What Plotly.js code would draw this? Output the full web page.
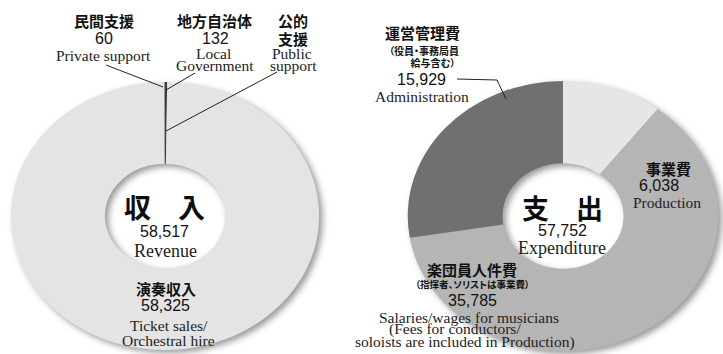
<!DOCTYPE html>
<html>
<head>
<meta charset="utf-8">
<script src="https://cdn.plot.ly/plotly-3.0.1.min.js"></script>
<style>
  html, body { margin: 0; padding: 0; background: #ffffff; }
  #chart { width: 723px; height: 354px; }
</style>
</head>
<body>
<div id="chart"></div>
<script>
const W = 723, H = 354;

// 収入 (Revenue), listed clockwise from 12 o'clock
const revenueKeys   = ['地方自治体', '演奏収入', '民間支援'];
const revenueValues = [132, 58325, 60];
const revenueColors = ['#3a3a3a', '#e4e4e4', '#9a9a9a'];

// 支出 (Expenditure), listed clockwise from 12 o'clock
const expenseKeys   = ['事業費', '楽団員人件費', '運営管理費'];
const expenseValues = [6038, 35785, 15929];
const expenseColors = ['#e6e6e6', '#b5b5b5', '#707070'];

const revenueTotal = revenueValues.reduce((a, b) => a + b, 0);
const expenseTotal = expenseValues.reduce((a, b) => a + b, 0);

const STRETCH = 1.15;   // rings are drawn slightly wider than tall
const HOLE = 0.39;

const fmt = v => v.toLocaleString('en-US');
const px = x => x / W;
const py = y => 1 - y / H;

const ring = (keys, values, colors, dx, dy) => ({
  type: 'pie', labels: keys, values: values, sort: false,
  direction: 'clockwise', rotation: 0, hole: HOLE,
  marker: { colors: colors, line: { width: 0 } },
  textinfo: 'none', hoverinfo: 'skip', showlegend: false,
  domain: { x: dx, y: dy }
});

const data = [
  ring(revenueKeys, revenueValues, revenueColors, [0, px(330)], [py(350), py(82)]),
  ring(expenseKeys, expenseValues, expenseColors, [px(403), 1], [py(351), py(81)])
];

const jp     = { family: '"Noto Sans CJK JP", sans-serif', size: 15, weight: 'bold', color: '#111' };
const jpNote = { family: '"Noto Sans CJK JP", sans-serif', size: 10, weight: 'bold', color: '#111' };
const jpTiny = { family: '"Noto Sans CJK JP", sans-serif', size: 9.5, weight: 'bold', color: '#111' };
const big    = { family: '"Noto Sans CJK JP", sans-serif', size: 27, weight: 'bold', color: '#0d0d0d' };
const num    = { family: '"Liberation Sans", Arial, sans-serif', size: 16, color: '#111' };
const serif  = { family: '"Liberation Serif", "Times New Roman", serif', size: 15.5, color: '#222' };
const serifL = { family: '"Liberation Serif", "Times New Roman", serif', size: 18, color: '#222' };

const note = (text, x, y, font) => ({
  text: text, x: px(x), y: py(y), xref: 'paper', yref: 'paper',
  xanchor: 'center', yanchor: 'middle', showarrow: false, font: font, borderpad: 0
});

const annotations = [
  // revenue side
  note(revenueKeys[2], 104, 20, jp),
  note(fmt(revenueValues[2]), 104, 38, num),
  note('Private support', 104, 56, serif),
  note(revenueKeys[0], 214, 20, jp),
  note(fmt(revenueValues[0]), 215, 38, num),
  note('Local', 213, 53, serif),
  note('Government', 215, 66, serif),
  note('公的', 293, 20, jp),
  note('支援', 293, 38, jp),
  note('Public', 292, 53, serif),
  note('support', 293, 66, serif),
  note('収　入', 164, 206, big),
  note(fmt(revenueTotal), 164, 232, num),
  note('Revenue', 165, 251, serifL),
  note(revenueKeys[1], 166, 288, jp),
  note(fmt(revenueValues[1]), 165, 305, num),
  note('Ticket sales/', 169, 325, serif),
  note('Orchestral hire', 168, 340, serif),

  // expenditure side
  note(expenseKeys[2], 422, 33, jp),
  note('（役員・事務局員', 424, 50, jpNote),
  note('給与含む）', 433, 63, jpNote),
  note(fmt(expenseValues[2]), 421, 79, num),
  note('Administration', 422, 97, serif),
  note(expenseKeys[0], 668, 168, jp),
  note(fmt(expenseValues[0]), 659, 185, num),
  note('Production', 667, 202, serif),
  note('支　出', 562, 207, big),
  note(fmt(expenseTotal), 562, 230, num),
  note('Expenditure', 562, 248, serifL),
  note(expenseKeys[1], 472, 269, jp),
  note('（指揮者、ソリストは事業費）', 472, 284, jpTiny),
  note(fmt(expenseValues[1]), 472, 300, num),
  note('Salaries/wages for musicians', 469, 317, serif),
  note('(Fees for conductors/', 455, 329, serif),
  note('soloists are included in Production)', 465, 342, serif)
];

const lead = (pts) => ({
  type: 'path', xref: 'paper', yref: 'paper',
  path: pts.map((p, i) => (i ? 'L' : 'M') + px(p[0]) + ',' + py(p[1])).join(' '),
  line: { color: '#222', width: 1 }
});

const shapes = [
  lead([[106, 65], [163, 87]]),
  lead([[195, 73], [166, 90]]),
  lead([[277, 72], [166, 131]]),
  lead([[457, 79], [497, 80], [506, 99]])
];

const layout = {
  width: W, height: H,
  margin: { l: 0, r: 0, t: 0, b: 0 },
  paper_bgcolor: '#ffffff',
  showlegend: false,
  annotations: annotations,
  shapes: shapes
};

Plotly.newPlot('chart', data, layout, { staticPlot: true, displayModeBar: false }).then(gd => {
  // widen each ring about its own centre and give it a soft drop shadow
  gd.querySelectorAll('.pielayer .trace').forEach((g, i) => {
    const d = data[i].domain;
    const cx = W * (d.x[0] + d.x[1]) / 2;
    const cy = H * (1 - (d.y[0] + d.y[1]) / 2);
    g.setAttribute('transform',
      'translate(' + cx + ',' + cy + ') scale(' + STRETCH + ',1) translate(' + (-cx) + ',' + (-cy) + ')');
    g.style.filter = 'drop-shadow(3px 3px 3px rgba(0,0,0,0.4))';
  });
  // proportional spacing for the small bracketed notes
  gd.querySelectorAll('.annotation-text').forEach(t => {
    if (/[（）、・]/.test(t.textContent)) t.style.fontFeatureSettings = '"palt" 1';
  });
});
</script>
</body>
</html>
